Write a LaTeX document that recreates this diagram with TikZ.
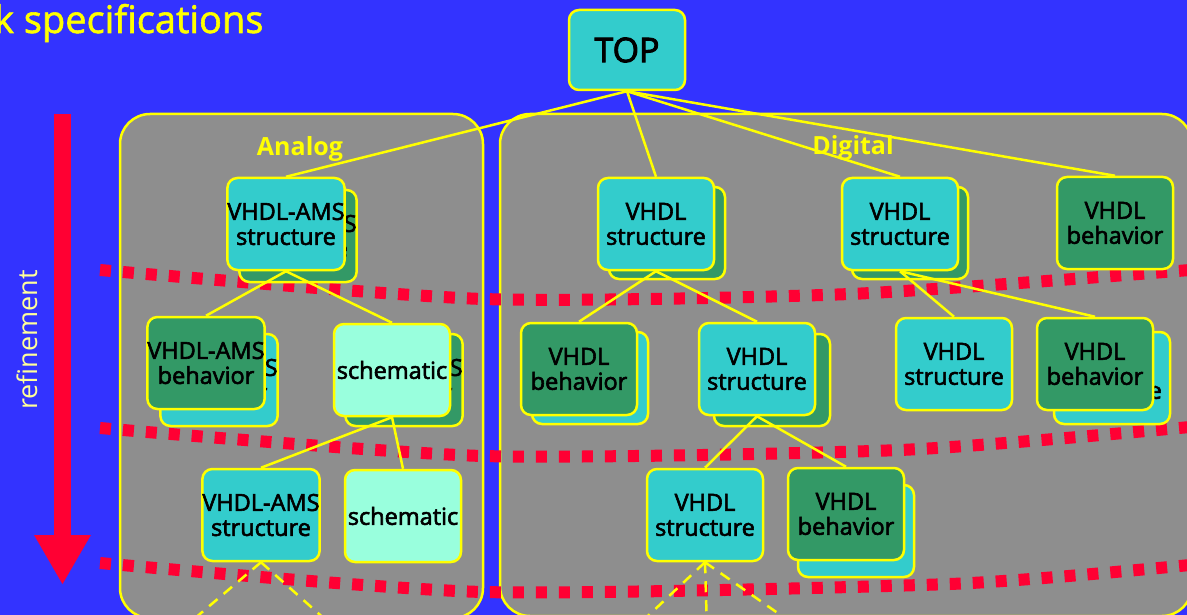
\documentclass[tikz,border=0pt]{standalone}
\usepackage{fontspec}
\setmainfont{Open Sans}
\newfontfamily\boxfont{Open Sans}[FakeBold=2.5]
\newfontfamily\titlefont{Open Sans}[FakeBold=1.5]
\usepackage{xcolor}
\definecolor{bgBlue}{HTML}{3333FF}
\definecolor{boxCyan}{HTML}{33CCCC}
\definecolor{boxGreen}{HTML}{339966}
\definecolor{boxMint}{HTML}{99FFDD}
\definecolor{panelGrey}{HTML}{8E8E8E}
\definecolor{refRed}{HTML}{FF0033}
\definecolor{lineYellow}{HTML}{FFFF00}
\definecolor{paleYellow}{HTML}{FFFF99}
\usepackage{tikz}
\usetikzlibrary{arrows.meta}
\tikzset{block/.style={draw=lineYellow, line width=2.5pt, rounded corners=10pt, minimum width=116pt, minimum height=92pt, inner sep=0pt, align=center, font=\boxfont\fontsize{23.5}{25}\selectfont}}
\tikzset{struct/.style={block, fill=boxCyan}}
\tikzset{behav/.style={block, fill=boxGreen}}
\tikzset{schem/.style={block, fill=boxMint}}
\tikzset{link/.style={draw=lineYellow, line width=2.5pt}}
\tikzset{open link/.style={link, dash pattern=on 11pt off 8pt}}
\tikzset{level/.style={draw=refRed, line width=12pt, dash pattern=on 11pt off 12pt}}
\tikzset{panel/.style={draw=lineYellow, line width=2.5pt, fill=panelGrey, rounded corners=30pt}}
\tikzset{side label/.style={text=lineYellow, font=\bfseries\fontsize{25}{27}\selectfont}}

\begin{document}
\begin{tikzpicture}[x=1pt,y=-1pt]
\fill[bgBlue] (0,0) rectangle (1187,615);
\useasboundingbox (0,0) rectangle (1187,615);
\clip (0,0) rectangle (1187,615);
\node[anchor=base east, text=lineYellow, font=\titlefont\fontsize{38}{40}\selectfont] (title) at (267,33) {k specifications};
\draw[panel] (120,114) rectangle (483,618);
\draw[panel] (500,114) rectangle (1192,616);
\node[side label] (analog) at (300,149) {Analog};
\node[side label] (digital) at (853,148) {Digital};
\coordinate (reftop) at (62.5,114);
\coordinate (refbot) at (62.5,585);
\draw[refRed, line width=17pt, -{Triangle[width=53pt,length=50pt]}] (reftop) -- (refbot);
\node[rotate=90, anchor=base, text=paleYellow, font=\fontsize{27}{29}\selectfont] (refine) at (37,340) {refinement};
\draw[level] plot[smooth, tension=0.4] coordinates {(100,270) (483,299) (850,294) (1190,270)};
\draw[level] plot[smooth, tension=0.4] coordinates {(100,428) (483,456) (900,450) (1190,427)};
\draw[level] plot[smooth, tension=0.4] coordinates {(100,563) (483,592) (950,584) (1190,565)};
\node[struct, minimum height=80pt, font=\boxfont\fontsize{34}{36}\selectfont] (top) at (627,50) {TOP};
\node[behav] (a1s) at (298,236) {VHDL-AMS\\structure};
\node[struct] (a1) at (286,224) {VHDL-AMS\\structure};
\node[struct] (a2s) at (219,380) {VHDL-AMS\\behavior};
\node[behav] (a2) at (206,363) {VHDL-AMS\\behavior};
\node[behav] (a3s) at (404,380) {VHDL-AMS\\behavior};
\node[schem] (a3) at (392,370) {schematic};
\node[struct] (a4) at (261,515) {VHDL-AMS\\structure};
\node[schem] (a5) at (403,516) {schematic};
\node[behav] (d1s) at (667,233) {};
\node[struct] (d1) at (656,224) {VHDL\\structure};
\node[behav] (d2s) at (910,233) {};
\node[struct] (d2) at (900,224) {VHDL\\structure};
\node[behav] (d3) at (1115,223) {VHDL\\behavior};
\node[struct] (d4s) at (590,378) {};
\node[behav] (d4) at (579,369) {VHDL\\behavior};
\node[behav] (d5s) at (772,380) {};
\node[struct] (d5) at (757,369) {VHDL\\structure};
\node[struct] (d6) at (954,364) {VHDL\\structure};
\node[struct] (d7s) at (1112,378) {VHDL\\structure};
\node[behav] (d7) at (1095,364) {VHDL\\behavior};
\node[struct] (d8) at (705,515) {VHDL\\structure};
\node[struct] (d9s) at (856,531) {};
\node[behav] (d9) at (846,514) {VHDL\\behavior};
\draw[link] (top.south) -- (a1.north);
\draw[link] (top.south) -- (d1.north);
\draw[link] (top.south) -- (d2.north);
\draw[link] (top.south) -- (d3.north);
\draw[link] (a1.south) -- (a2.north);
\draw[link] (a1.south) -- (a3.north);
\draw[link] (a3.south) -- (a4.north);
\draw[link] (a3.south) -- (a5.north);
\draw[link] (d1.south) -- (d4.north);
\draw[link] (d1.south) -- (d5.north);
\draw[link] (d2.south) -- (d6.north);
\draw[link] (d2.south) -- (d7.north);
\draw[link] (d5.south) -- (d8.north);
\draw[link] (d5.south) -- (d9.north);
\coordinate (a4l) at (181,630);
\coordinate (a4r) at (337,630);
\coordinate (d8l) at (633,630);
\coordinate (d8m) at (707,630);
\coordinate (d8r) at (802,630);
\draw[open link] (a4.south) -- (a4l);
\draw[open link] (a4.south) -- (a4r);
\draw[open link] (d8.south) -- (d8l);
\draw[open link] (d8.south) -- (d8m);
\draw[open link] (d8.south) -- (d8r);
\end{tikzpicture}
\end{document}
